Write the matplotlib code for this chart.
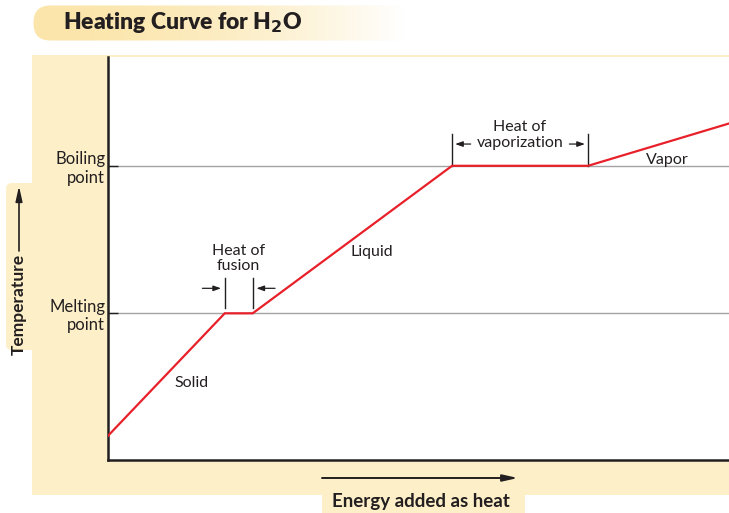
import matplotlib
matplotlib.use("Agg")
import matplotlib.pyplot as plt
from matplotlib.patches import FancyBboxPatch, Rectangle
import numpy as np

plt.rcParams['font.family'] = ['Lato', 'DejaVu Sans']

# heating curve corner points (energy, temperature), arbitrary units
energy = [0, 18.8, 23.3, 55.4, 77.3, 100]
temperature = [6, 36.4, 36.4, 73, 73, 83.5]
melting = 36.4
boiling = 73
tick_labels = ["Melting\npoint", "Boiling\npoint"]
phase_labels = ["Solid", "Liquid", "Vapor"]
phase_pos = [(13.5, 19), (42.5, 51.5), (90, 74.5)]

W, H = 729, 513
dark = '#231f20'
beige = '#fdf0c9'
red = '#e8202a'

fig = plt.figure(figsize=(W / 100, H / 100), dpi=100)


def fx(x):
    return x / W


def fy(y):
    return 1 - y / H


# beige panel behind the plot
fig.add_artist(Rectangle((fx(32), fy(495)), fx(729) - fx(32), fy(55) - fy(495),
                         transform=fig.transFigure, facecolor=beige, edgecolor='none', zorder=0))
# x label box
fig.add_artist(Rectangle((fx(322), fy(513)), fx(525) - fx(322), fy(489) - fy(513),
                         transform=fig.transFigure, facecolor=beige, edgecolor='none', zorder=0))

# y label box (pixel-unit axes so the rounding is round)
yax = fig.add_axes([fx(5), fy(351), fx(34) - fx(5), fy(182) - fy(351)])
yax.axis('off')
yax.set_xlim(0, 29)
yax.set_ylim(0, 169)
yax.add_patch(FancyBboxPatch((1, 1), 40, 167, boxstyle="round,pad=0,rounding_size=6",
                             facecolor=beige, edgecolor='none'))

# title banner with gradient
tax = fig.add_axes([fx(33), fy(41), fx(405) - fx(33), fy(5) - fy(41)])
tax.axis('off')
tax.set_xlim(0, 372)
tax.set_ylim(0, 36)
grad = np.linspace(0, 1, 256).reshape(1, -1)
c0 = np.array([251, 229, 170]) / 255
c1 = np.array([255, 255, 255]) / 255
t = grad[..., None] ** 1.8
img = c0[None, None, :] * (1 - t) + c1[None, None, :] * t
im = tax.imshow(img, extent=[0, 372, 0, 36], aspect='auto')
clip = FancyBboxPatch((0.5, 0.5), 420, 35, boxstyle="round,pad=0,rounding_size=17",
                      facecolor='none', edgecolor='none')
tax.add_patch(clip)
im.set_clip_path(clip)
fig.text(fx(63), fy(23), "Heating Curve for H$_\\mathbf{2}$O", fontsize=16.5, fontweight='heavy',
         color=dark, va='center', ha='left')

# main axes
ax = fig.add_axes([fx(108), fy(460), fx(729) - fx(108), fy(57) - fy(460)])
ax.set_facecolor('white')
ax.set_xlim(0, 100)
ax.set_ylim(0, 100)
for s in ['top', 'right']:
    ax.spines[s].set_visible(False)
for s in ['left', 'bottom']:
    ax.spines[s].set_color(dark)
    ax.spines[s].set_linewidth(1.8)

ax.axhline(melting, color='#a3a3a3', lw=1, zorder=1)
ax.axhline(boiling, color='#a3a3a3', lw=1, zorder=1)
ax.plot(energy, temperature, color=red, lw=1.6, zorder=3, solid_joinstyle='miter')

ax.set_xticks([])
ax.set_yticks([melting, boiling])
ax.set_yticklabels(tick_labels, fontsize=12, color=dark, linespacing=1.2)
ax.tick_params(axis='y', direction='in', length=7, width=1, color=dark, pad=2)

for lab, (x, y) in zip(phase_labels, phase_pos):
    ax.text(x, y, lab, fontsize=11.5, color=dark, ha='center', va='center')

arrow = dict(arrowstyle='-|>,head_length=0.45,head_width=0.16', color=dark, lw=0.9,
             shrinkA=0, shrinkB=0)

# heat of fusion marks
x_f0, x_f1 = energy[1], energy[2]
for x in [x_f0, x_f1]:
    ax.plot([x, x], [melting + 1.2, melting + 8.7], color=dark, lw=1)
ax.annotate("", xy=(x_f0 - 0.6, melting + 6.2), xytext=(x_f0 - 3.6, melting + 6.2), arrowprops=arrow)
ax.annotate("", xy=(x_f1 + 0.6, melting + 6.2), xytext=(x_f1 + 3.6, melting + 6.2), arrowprops=arrow)
ax.text((x_f0 + x_f1) / 2, melting + 13.6, "Heat of\nfusion", fontsize=11.5, color=dark,
        ha='center', va='center', linespacing=1.15)

# heat of vaporization marks
x_v0, x_v1 = energy[3], energy[4]
for x in [x_v0, x_v1]:
    ax.plot([x, x], [boiling, boiling + 7.8], color=dark, lw=1)
ax.annotate("", xy=(x_v0 + 0.5, boiling + 5.4), xytext=(x_v0 + 3.0, boiling + 5.4), arrowprops=arrow)
ax.annotate("", xy=(x_v1 - 0.5, boiling + 5.4), xytext=(x_v1 - 3.0, boiling + 5.4), arrowprops=arrow)
ax.text((x_v0 + x_v1) / 2, boiling + 7.6, "Heat of\nvaporization", fontsize=11.5, color=dark,
        ha='center', va='center', linespacing=1.15)

# axis titles with arrows
fig.text(fx(19), fy(304), "Temperature", fontsize=12.5, fontweight='bold', color=dark,
         rotation=90, ha='center', va='center')
ax.annotate("", xy=(19, H - 186), xytext=(19, H - 251), xycoords='figure pixels',
            arrowprops=dict(arrowstyle='-|>,head_length=0.9,head_width=0.2', color=dark, lw=1.2,
                            shrinkA=0, shrinkB=0))
fig.text(fx(421), fy(502), "Energy added as heat", fontsize=13.5, fontweight='bold', color=dark,
         ha='center', va='center')
ax.annotate("", xy=(518, H - 478), xytext=(322, H - 478), xycoords='figure pixels',
            arrowprops=dict(arrowstyle='-|>,head_length=0.9,head_width=0.2', color=dark, lw=1.4,
                            shrinkA=0, shrinkB=0))

fig.savefig("out.png", dpi=100, facecolor='white')
